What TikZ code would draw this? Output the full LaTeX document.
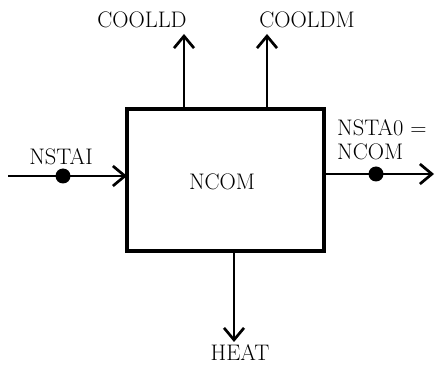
\documentclass[tikz,border=0pt]{standalone}
\usetikzlibrary{arrows.meta}
\begin{document}
\begin{tikzpicture}[x=1pt,y=-1pt,
  lbl/.style={font=\fontsize{22.5}{24}\selectfont, inner sep=0pt},
  flow/.style={line width=2.7pt,-{Straight Barb[length=12pt,width=20pt,line width=2.7pt]}},
  dot/.style={circle,fill=black,inner sep=0pt,minimum size=15pt}]
\useasboundingbox (0,0) rectangle (437,366);
\node[draw,line width=4.2pt,minimum width=197pt,minimum height=142pt,inner sep=0pt] (box) at (225.5,180) {};
\node[lbl] (ncom) at (222,182) {NCOM};
% top outputs
\coordinate (t1) at (184,109);
\coordinate (t2) at (267,109);
\coordinate (t1e) at (184,34);
\coordinate (t2e) at (267,34);
\draw[flow] (t1) -- (t1e);
\draw[flow] (t2) -- (t2e);
\node[lbl] (coolld) at (142,20) {COOLLD};
\node[lbl] (cooldm) at (307,20) {COOLDM};
% left input
\coordinate (in) at (8,176);
\coordinate (inb) at (127,176);
\draw[flow] (in) -- (inb);
\node[dot] (d1) at (63,176) {};
\node[lbl] (nstai) at (61,157) {NSTAI};
% right output
\coordinate (outa) at (324,174);
\coordinate (oute) at (434,174);
\draw[flow] (outa) -- (oute);
\node[dot] (d2) at (376,174) {};
\node[lbl,anchor=west] (nsta0) at (337,128) {NSTA0 =};
\node[lbl,anchor=west] (ncom2) at (337,152) {NCOM};
% bottom output
\coordinate (b1) at (234,251);
\coordinate (b1e) at (234,342);
\draw[flow] (b1) -- (b1e);
\node[lbl] (heat) at (240,353) {HEAT};
\end{tikzpicture}
\end{document}
